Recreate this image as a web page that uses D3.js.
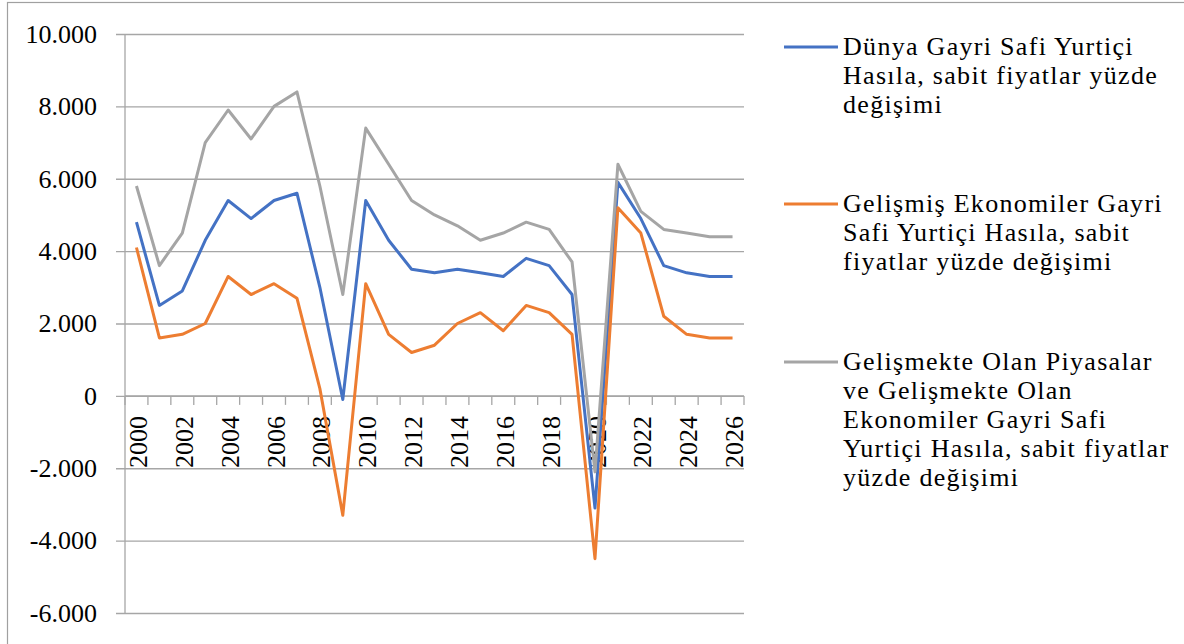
<!DOCTYPE html>
<html>
<head>
<meta charset="utf-8">
<script src="https://cdn.jsdelivr.net/npm/d3@7"></script>
<style>
  body { margin: 0; background: #fff; }
  text { font-family: "Liberation Serif", serif; fill: #000; }
</style>
</head>
<body>
<div id="chart"></div>
<script>
// data
var years = d3.range(2000, 2027)
var world = [4.8, 2.5, 2.9, 4.3, 5.4, 4.9, 5.4, 5.6, 3.0, -0.1, 5.4, 4.3, 3.5, 3.4, 3.5, 3.4, 3.3, 3.8, 3.6, 2.8, -3.1, 5.9, 4.9, 3.6, 3.4, 3.3, 3.3]
var advanced = [4.1, 1.6, 1.7, 2.0, 3.3, 2.8, 3.1, 2.7, 0.2, -3.3, 3.1, 1.7, 1.2, 1.4, 2.0, 2.3, 1.8, 2.5, 2.3, 1.7, -4.5, 5.2, 4.5, 2.2, 1.7, 1.6, 1.6]
var emerging = [5.8, 3.6, 4.5, 7.0, 7.9, 7.1, 8.0, 8.4, 5.8, 2.8, 7.4, 6.4, 5.4, 5.0, 4.7, 4.3, 4.5, 4.8, 4.6, 3.7, -2.1, 6.4, 5.1, 4.6, 4.5, 4.4, 4.4]
var yTicks = [-6, -4, -2, 0, 2, 4, 6, 8, 10]
var xLabels = years.filter(d => d % 2 === 0)
var names = [
    ['Dünya Gayri Safi Yurtiçi', 'Hasıla, sabit fiyatlar yüzde', 'değişimi'],
    ['Gelişmiş Ekonomiler Gayri', 'Safi Yurtiçi Hasıla, sabit', 'fiyatlar yüzde değişimi'],
    ['Gelişmekte Olan Piyasalar', 've Gelişmekte Olan', 'Ekonomiler Gayri Safi', 'Yurtiçi Hasıla, sabit fiyatlar', 'yüzde değişimi']
]
var colors = ['#4472C4', '#ED7D31', '#A5A5A5']
var series = [world, advanced, emerging]

// dimensions
var w = 1184, h = 644
var pl = 125, pr = 744, pt = 34, pb = 613
var gridColor = '#a6a6a6'
var fs = 26

var svg = d3.select('#chart')
    .append('svg')
    .attr('width', w)
    .attr('height', h)

// frame
svg.append('rect')
    .attr('x', 7.5)
    .attr('y', 2.5)
    .attr('width', w + 20)
    .attr('height', h + 20)
    .attr('fill', 'none')
    .attr('stroke', '#a0a0a0')
    .attr('stroke-width', 1.2)

// scales
var xscale = d3.scaleBand()
    .domain(years)
    .range([pl, pr])

var yscale = d3.scaleLinear()
    .domain([-6, 10])
    .range([pb, pt])

var tr = d3.formatLocale({ decimal: ',', thousands: '.', grouping: [3], currency: ['', ' TL'], minus: '-' })
var fmt = tr.format(',d')

// grid + y axis
var yaxis = d3.axisLeft(yscale)
    .tickValues(yTicks)
    .tickSize(pr - pl + 9)
    .tickPadding(19)
    .tickFormat(d => fmt(d * 1000))

svg.append('g')
    .attr('transform', `translate(${pr},0)`)
    .call(yaxis)
    .call(g => g.select('.domain').remove())
    .call(g => g.selectAll('line').attr('stroke', gridColor).attr('stroke-width', 1.3))
    .call(g => g.selectAll('text').attr('font-size', fs).attr('font-family', '"Liberation Serif", serif').attr('fill', '#000'))

svg.append('line')
    .attr('x1', pl).attr('x2', pl)
    .attr('y1', pt).attr('y2', pb)
    .attr('stroke', gridColor)
    .attr('stroke-width', 1.3)

// x axis on zero line, ticks at category borders
var y0 = yscale(0)
var xaxis = svg.append('g').attr('transform', `translate(0,${y0})`)

xaxis.append('line')
    .attr('x1', pl).attr('x2', pr)
    .attr('stroke', gridColor)
    .attr('stroke-width', 1.3)

xaxis.selectAll('line.tick')
    .data(years.concat([2027]))
    .enter()
    .append('line')
    .attr('class', 'tick')
    .attr('x1', d => d === 2027 ? pr : xscale(d))
    .attr('x2', d => d === 2027 ? pr : xscale(d))
    .attr('y1', 0)
    .attr('y2', 9)
    .attr('stroke', gridColor)
    .attr('stroke-width', 1.3)

xaxis.selectAll('text')
    .data(xLabels)
    .enter()
    .append('text')
    .text(d => d)
    .attr('font-size', fs)
    .attr('text-anchor', 'end')
    .attr('dy', '0.35em')
    .attr('transform', d => `translate(${xscale(d) + xscale.bandwidth() / 2 + 1.5},${20}) rotate(-90)`)

// lines
var line = d3.line()
    .x((d, i) => xscale(years[i]) + xscale.bandwidth() / 2)
    .y(d => yscale(d))

svg.selectAll('path.series')
    .data(series)
    .enter()
    .append('path')
    .attr('class', 'series')
    .attr('d', line)
    .attr('fill', 'none')
    .attr('stroke', (d, i) => colors[i])
    .attr('stroke-width', 3)
    .attr('stroke-linejoin', 'round')

// legend
var legendY = [47, 204, 362]
var lg = svg.selectAll('g.legend')
    .data(names)
    .enter()
    .append('g')
    .attr('class', 'legend')
    .attr('transform', (d, i) => `translate(784,${legendY[i]})`)

lg.append('line')
    .attr('x1', 0).attr('x2', 54)
    .attr('stroke', (d, i) => colors[i])
    .attr('stroke-width', 3)

lg.selectAll('text')
    .data(d => d)
    .enter()
    .append('text')
    .text(d => d)
    .attr('x', 59)
    .attr('y', (d, i) => i * 29 + 8)
    .attr('font-size', fs)
    .attr('letter-spacing', 1.3)
</script>
</body>
</html>
